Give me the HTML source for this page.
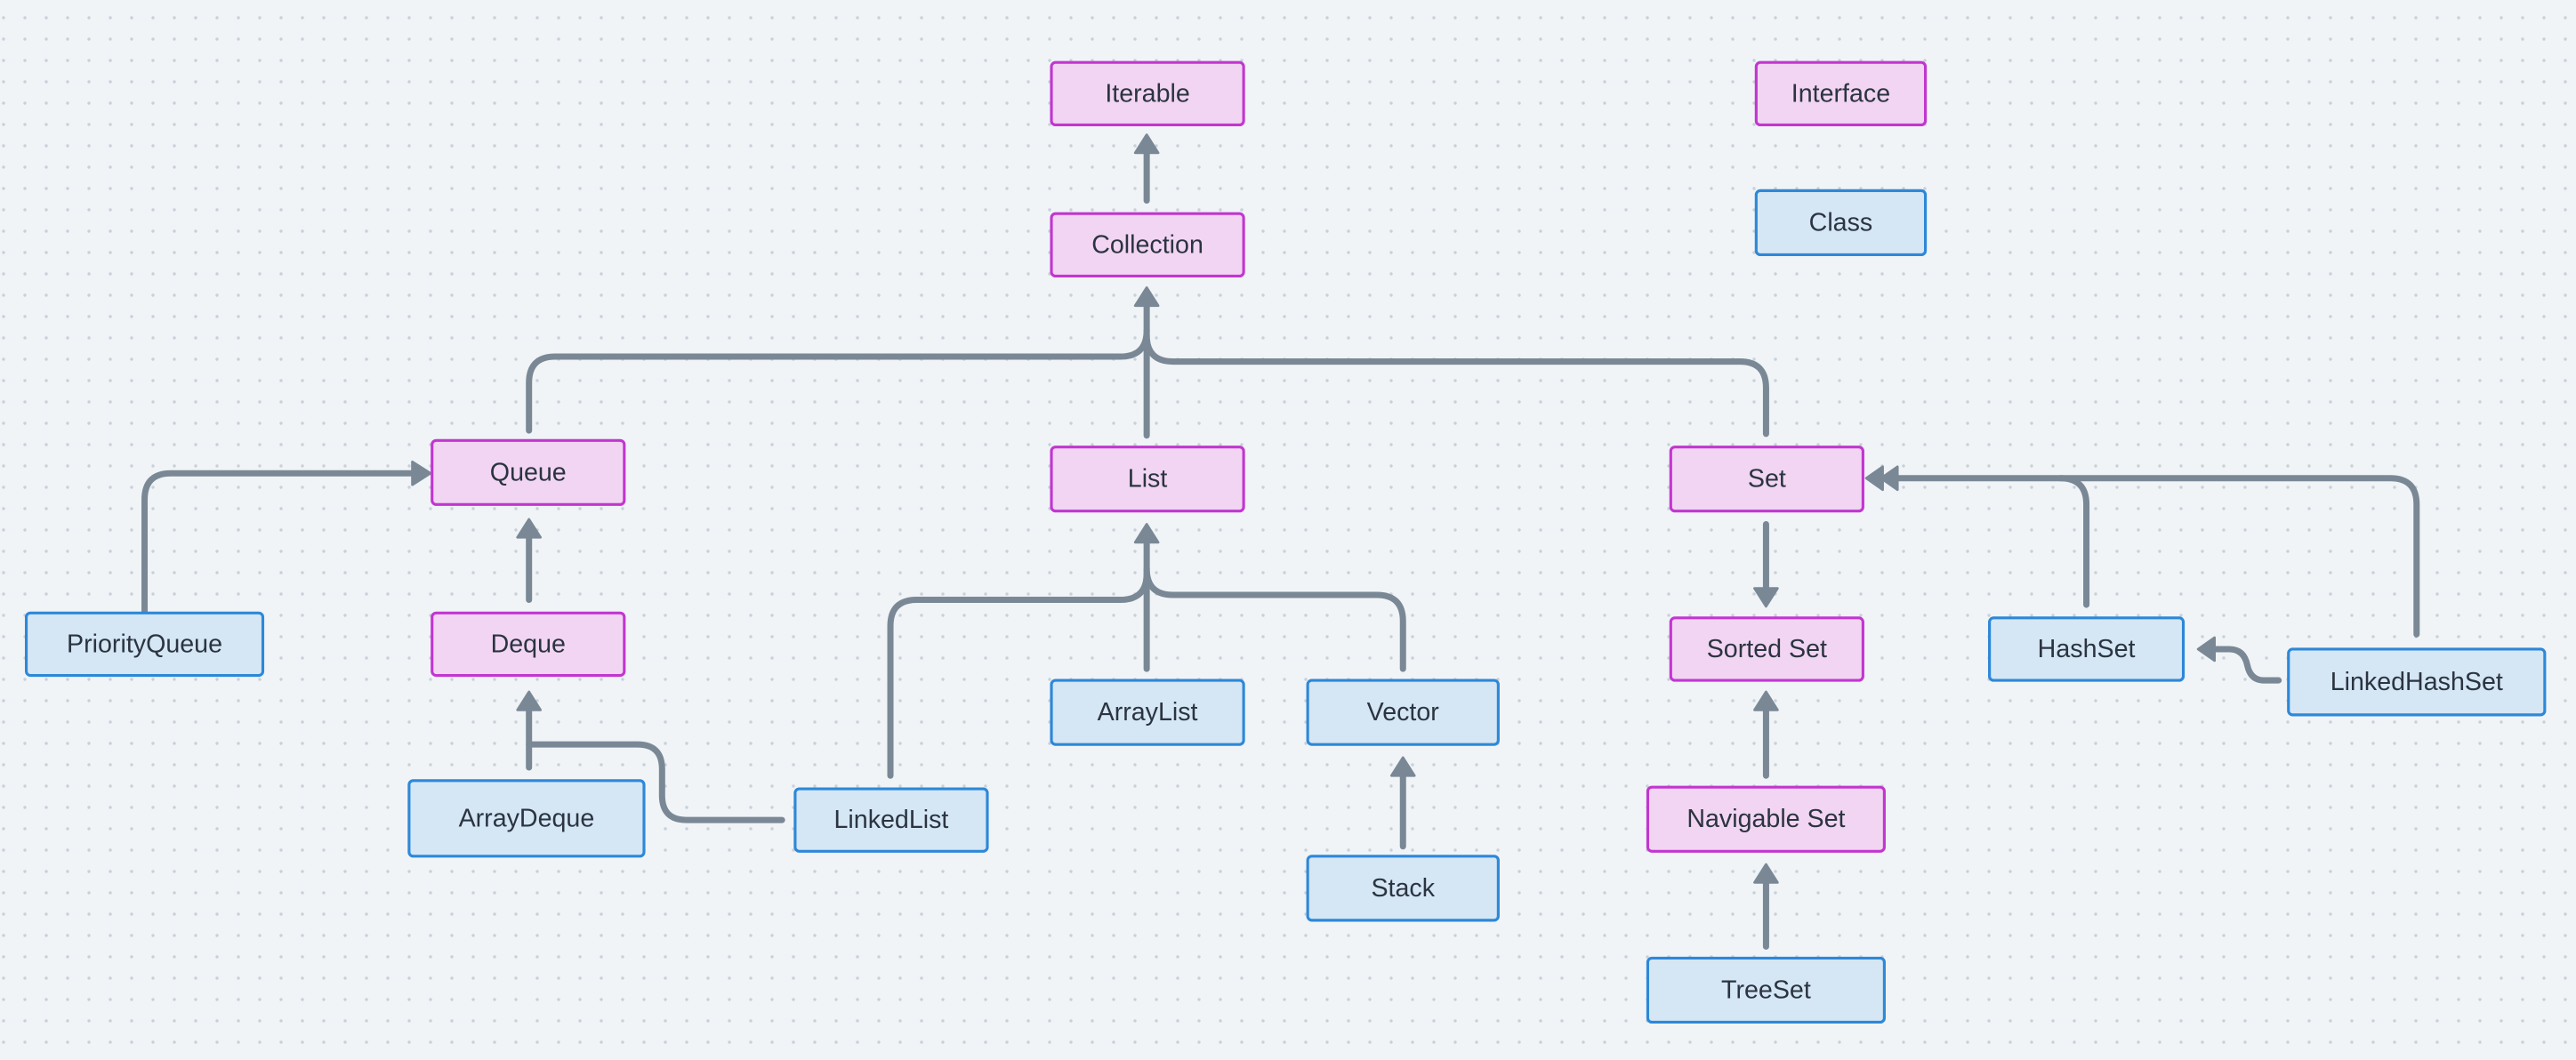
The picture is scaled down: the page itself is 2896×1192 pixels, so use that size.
<!DOCTYPE html>
<html><head><meta charset="utf-8"><style>
html,body{margin:0;padding:0;background:#f0f4f7;}
svg{display:block}
text{font-family:"Liberation Sans",sans-serif;font-size:15.5px;fill:#2b3440;text-anchor:middle;dominant-baseline:central}
.i{fill:#f2d5f3;stroke:#c236d0;stroke-width:1.7}
.c{fill:#d5e6f5;stroke:#2d88d8;stroke-width:1.7}
.l{fill:none;stroke:#7a8896;stroke-width:3.8;stroke-linecap:round;stroke-linejoin:round}
.a{fill:#7a8896;stroke:#7a8896;stroke-width:1.5;stroke-linejoin:round}
</style></head><body>
<svg width="2896" height="1192" viewBox="0 0 2896 1192" xmlns="http://www.w3.org/2000/svg">
<defs><pattern id="d" x="4" y="20" width="24" height="24" patternUnits="userSpaceOnUse"><circle cx="0" cy="0" r="1.7" fill="#c8d0da"/><circle cx="24" cy="0" r="1.7" fill="#c8d0da"/><circle cx="0" cy="24" r="1.7" fill="#c8d0da"/><circle cx="24" cy="24" r="1.7" fill="#c8d0da"/></pattern></defs>
<rect width="2896" height="1192" fill="#f0f4f7"/>
<rect width="2896" height="1192" fill="url(#d)"/>
<g transform="scale(1.8469,1.848)">
<!-- connectors -->
<path class="l" d="M698,122V90"/><polygon class="a" points="698,82 691,93 705,93"/>
<path class="l" d="M698,265V186"/><polygon class="a" points="698,175 691,186 705,186"/>
<path class="l" d="M322,262V233Q322,217 338,217H682Q698,217 698,201"/>
<path class="l" d="M1075,264V236Q1075,220 1059,220H714Q698,220 698,204"/>
<path class="l" d="M88,372V304Q88,288 104,288H252"/><polygon class="a" points="262,288 251,281 251,295"/>
<path class="l" d="M322,365V326"/><polygon class="a" points="322,316 315,327 329,327"/>
<path class="l" d="M322,467V431"/><polygon class="a" points="322,421 315,432 329,432"/>
<path class="l" d="M476,499H418Q403,499 403,484V468Q403,453 388,453H322"/>
<path class="l" d="M542,472V381Q542,365 558,365H682Q698,365 698,349"/>
<path class="l" d="M698,407V330"/><polygon class="a" points="698,319 691,330 705,330"/>
<path class="l" d="M854,407V378Q854,362 838,362H714Q698,362 698,346"/>
<path class="l" d="M854,515V472"/><polygon class="a" points="854,461 847,472 861,472"/>
<path class="l" d="M1075,319V358"/><polygon class="a" points="1075,369 1068,358 1082,358"/>
<path class="l" d="M1075,472V432"/><polygon class="a" points="1075,421 1068,432 1082,432"/>
<path class="l" d="M1075,576V537"/><polygon class="a" points="1075,526 1068,537 1082,537"/>
<path class="l" d="M1270,368V307Q1270,291 1254,291H1150"/>
<polygon class="a" points="1136,291 1146,284 1146,298"/><polygon class="a" points="1145,291 1155,284 1155,298"/>
<path class="l" d="M1471,386V307Q1471,291 1455,291H1254"/>
<path class="l" d="M1387,414H1378Q1370,414 1368,405Q1366,395 1357,395H1348"/><polygon class="a" points="1338,395 1348,388 1348,402"/>
<!-- interfaces -->
<rect class="i" x="640" y="38" width="117" height="38" rx="2.5"/><text x="698.5" y="57">Iterable</text>
<rect class="i" x="1069" y="38" width="103" height="38" rx="2.5"/><text x="1120.5" y="57">Interface</text>
<rect class="i" x="640" y="130" width="117" height="38" rx="2.5"/><text x="698.5" y="149">Collection</text>
<rect class="i" x="263" y="268" width="117" height="39" rx="2.5"/><text x="321.5" y="287.5">Queue</text>
<rect class="i" x="640" y="272" width="117" height="39" rx="2.5"/><text x="698.5" y="291.5">List</text>
<rect class="i" x="1017" y="272" width="117" height="39" rx="2.5"/><text x="1075.5" y="291.5">Set</text>
<rect class="i" x="263" y="373" width="117" height="38" rx="2.5"/><text x="321.5" y="392">Deque</text>
<rect class="i" x="1017" y="376" width="117" height="38" rx="2.5"/><text x="1075.5" y="395">Sorted Set</text>
<rect class="i" x="1003" y="479" width="144" height="39" rx="2.5"/><text x="1075" y="498.5">Navigable Set</text>
<!-- classes -->
<rect class="c" x="1069" y="116" width="103" height="39" rx="2.5"/><text x="1120.5" y="135.5">Class</text>
<rect class="c" x="16" y="373" width="144" height="38" rx="2.5"/><text x="88" y="392">PriorityQueue</text>
<rect class="c" x="1211" y="376" width="118" height="38" rx="2.5"/><text x="1270" y="395">HashSet</text>
<rect class="c" x="1393" y="395" width="156" height="40" rx="2.5"/><text x="1471" y="415">LinkedHashSet</text>
<rect class="c" x="640" y="414" width="117" height="39" rx="2.5"/><text x="698.5" y="433.5">ArrayList</text>
<rect class="c" x="796" y="414" width="116" height="39" rx="2.5"/><text x="854" y="433.5">Vector</text>
<rect class="c" x="249" y="475" width="143" height="46" rx="2.5"/><text x="320.5" y="498">ArrayDeque</text>
<rect class="c" x="484" y="480" width="117" height="38" rx="2.5"/><text x="542.5" y="499">LinkedList</text>
<rect class="c" x="796" y="521" width="116" height="39" rx="2.5"/><text x="854" y="540.5">Stack</text>
<rect class="c" x="1003" y="583" width="144" height="39" rx="2.5"/><text x="1075" y="602.5">TreeSet</text>
</g>
</svg>
</body></html>
